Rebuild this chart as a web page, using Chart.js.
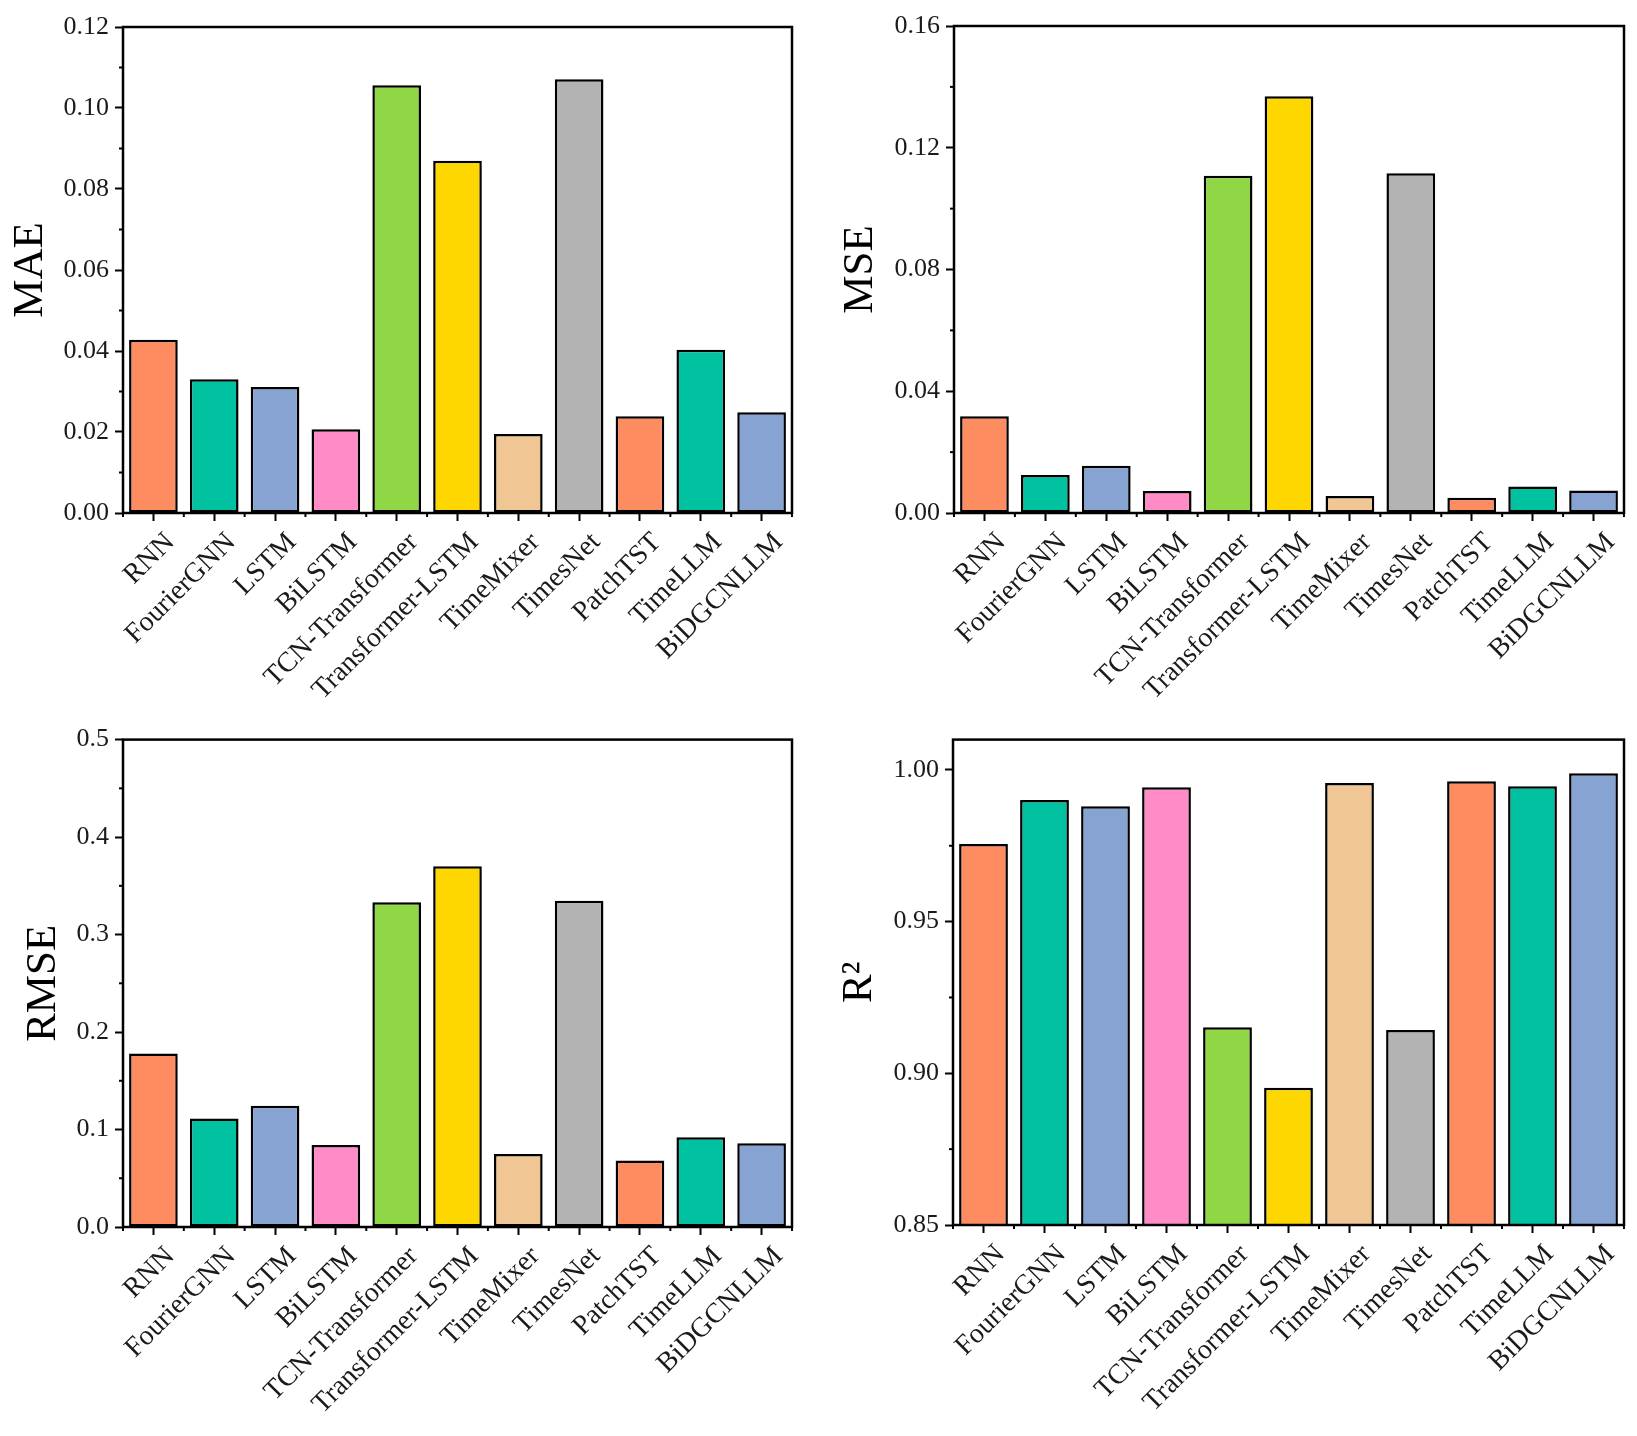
<!DOCTYPE html>
<html>
<head>
<meta charset="utf-8">
<title>Model error metrics</title>
<script src="https://cdn.jsdelivr.net/npm/chart.js@4.4.1/dist/chart.umd.min.js"></script>
<style>
  html, body { margin: 0; padding: 0; background: #fff; }
  .panel { position: absolute; width: 818px; height: 718px; }
</style>
</head>
<body>
<div class="panel" style="left:0;top:0"><canvas id="maeChart" width="818" height="718"></canvas></div>
<div class="panel" style="left:818px;top:0"><canvas id="mseChart" width="818" height="718"></canvas></div>
<div class="panel" style="left:0;top:718px"><canvas id="rmseChart" width="818" height="718"></canvas></div>
<div class="panel" style="left:818px;top:718px"><canvas id="r2Chart" width="818" height="718"></canvas></div>
<script>
// Models on the x axis
var models = ['RNN', 'FourierGNN', 'LSTM', 'BiLSTM', 'TCN-Transformer', 'Transformer-LSTM',
  'TimeMixer', 'TimesNet', 'PatchTST', 'TimeLLM', 'BiDGCNLLM'];

// Metric values
var maeValues = [0.0428, 0.0330, 0.0311, 0.0207, 0.1056, 0.0870, 0.0195, 0.1071, 0.0239, 0.0403, 0.0249];
var mseValues = [0.0318, 0.0125, 0.0155, 0.0072, 0.1108, 0.1369, 0.0056, 0.1116, 0.0050, 0.0087, 0.0074];
var rmseValues = [0.178, 0.1112, 0.1243, 0.0841, 0.3332, 0.3701, 0.0748, 0.3346, 0.0682, 0.0921, 0.0860];
var r2Values = [0.9756, 0.9901, 0.9880, 0.9943, 0.9152, 0.8952, 0.9957, 0.9143, 0.9963, 0.9946, 0.9989];

// Major tick values for each y axis
var maeTicks = [0, 0.02, 0.04, 0.06, 0.08, 0.10, 0.12];
var mseTicks = [0, 0.04, 0.08, 0.12, 0.16];
var rmseTicks = [0, 0.1, 0.2, 0.3, 0.4, 0.5];
var r2Ticks = [0.85, 0.90, 0.95, 1.00];

// Bar colours, one per model
var barColors = ['#FD8D60', '#00C2A0', '#87A3D1', '#FF8CC6', '#8FD744', '#FFD700',
  '#F0C794', '#B3B3B3', '#FD8D60', '#00C2A0', '#87A3D1'];

var serif = "'Liberation Serif', 'Times New Roman', serif";

// Frame round the plot area plus the short minor ticks
var framePlugin = {
  id: 'frame',
  afterDraw: function (chart) {
    var ctx = chart.ctx;
    var a = chart.chartArea;
    var x = chart.scales.x;
    var y = chart.scales.y;
    var majors = chart.options.plugins.frame.majors;
    ctx.save();
    ctx.strokeStyle = '#000';
    ctx.lineWidth = 2;
    // minor ticks on y, halfway between majors
    for (var i = 0; i < majors.length; i++) {
      var step = i < majors.length - 1 ? majors[i + 1] - majors[i] : majors[i] - majors[i - 1];
      var v = majors[i] + step / 2;
      if (v >= y.max) continue;
      var py = y.getPixelForValue(v);
      ctx.beginPath();
      ctx.moveTo(a.left, py);
      ctx.lineTo(a.left - 4, py);
      ctx.stroke();
    }
    // minor ticks on x at category boundaries
    for (var j = 0; j <= models.length; j++) {
      var px = x.getPixelForValue(j - 0.5);
      ctx.beginPath();
      ctx.moveTo(px, a.bottom);
      ctx.lineTo(px, a.bottom + 4);
      ctx.stroke();
    }
    ctx.lineWidth = 2.5;
    ctx.strokeRect(a.left, a.top, a.right - a.left, a.bottom - a.top);
    ctx.restore();
  }
};

function makeChart(canvasId, values, opt) {
  var ctx = document.getElementById(canvasId).getContext('2d');
  return new Chart(ctx, {
    type: 'bar',
    data: {
      labels: models,
      datasets: [{
        data: values,
        backgroundColor: barColors,
        borderColor: '#000',
        borderWidth: 2.5,
        borderSkipped: false,
        barPercentage: 0.8,
        categoryPercentage: 1.0
      }]
    },
    options: {
      responsive: false,
      animation: false,
      layout: { padding: { left: 0, top: opt.top, right: 818 - opt.right, bottom: 0 } },
      plugins: {
        legend: { display: false },
        tooltip: { enabled: false },
        frame: { majors: opt.ticks }
      },
      scales: {
        x: {
          offset: true,
          grid: { offset: false, drawOnChartArea: false, drawTicks: true, tickLength: 8, tickWidth: 2, tickColor: '#000' },
          border: { display: false },
          ticks: {
            autoSkip: false, maxRotation: 45, minRotation: 45, padding: 5, labelOffset: 17,
            color: '#1a1a1a', font: { family: serif, size: 28 }
          },
          afterFit: function (scale) { scale.height = 718 - opt.bottom; }
        },
        y: {
          min: opt.min,
          max: opt.max,
          grid: { drawOnChartArea: false, drawTicks: true, tickLength: 8, tickWidth: 2, tickColor: '#000' },
          border: { display: false },
          afterBuildTicks: function (scale) {
            scale.ticks = opt.ticks.map(function (v) { return { value: v }; });
          },
          ticks: {
            padding: 6,
            color: '#1a1a1a',
            font: { family: serif, size: 26 },
            callback: function (value) { return Number(value).toFixed(opt.decimals); }
          },
          title: {
            display: true, text: opt.title, color: '#000',
            font: { family: serif, size: 43 }, padding: { top: opt.titlePad, bottom: 0 }
          },
          afterFit: function (scale) { scale.width = opt.left; }
        }
      }
    },
    plugins: [framePlugin]
  });
}

makeChart('maeChart', maeValues, { title: 'MAE', min: 0, max: 0.12, ticks: maeTicks, decimals: 2,
  left: 123, right: 792, top: 27, bottom: 513, titlePad: 5 });
makeChart('mseChart', mseValues, { title: 'MSE', min: 0, max: 0.16, ticks: mseTicks, decimals: 2,
  left: 136, right: 806, top: 26, bottom: 513, titlePad: 17 });
makeChart('rmseChart', rmseValues, { title: 'RMSE', min: 0, max: 0.5, ticks: rmseTicks, decimals: 1,
  left: 123, right: 792, top: 21, bottom: 509, titlePad: 18 });
makeChart('r2Chart', r2Values, { title: 'R\u00B2', min: 0.85, max: 1.01, ticks: r2Ticks, decimals: 2,
  left: 135, right: 806, top: 20, bottom: 507, titlePad: 16 });
</script>
</body>
</html>
